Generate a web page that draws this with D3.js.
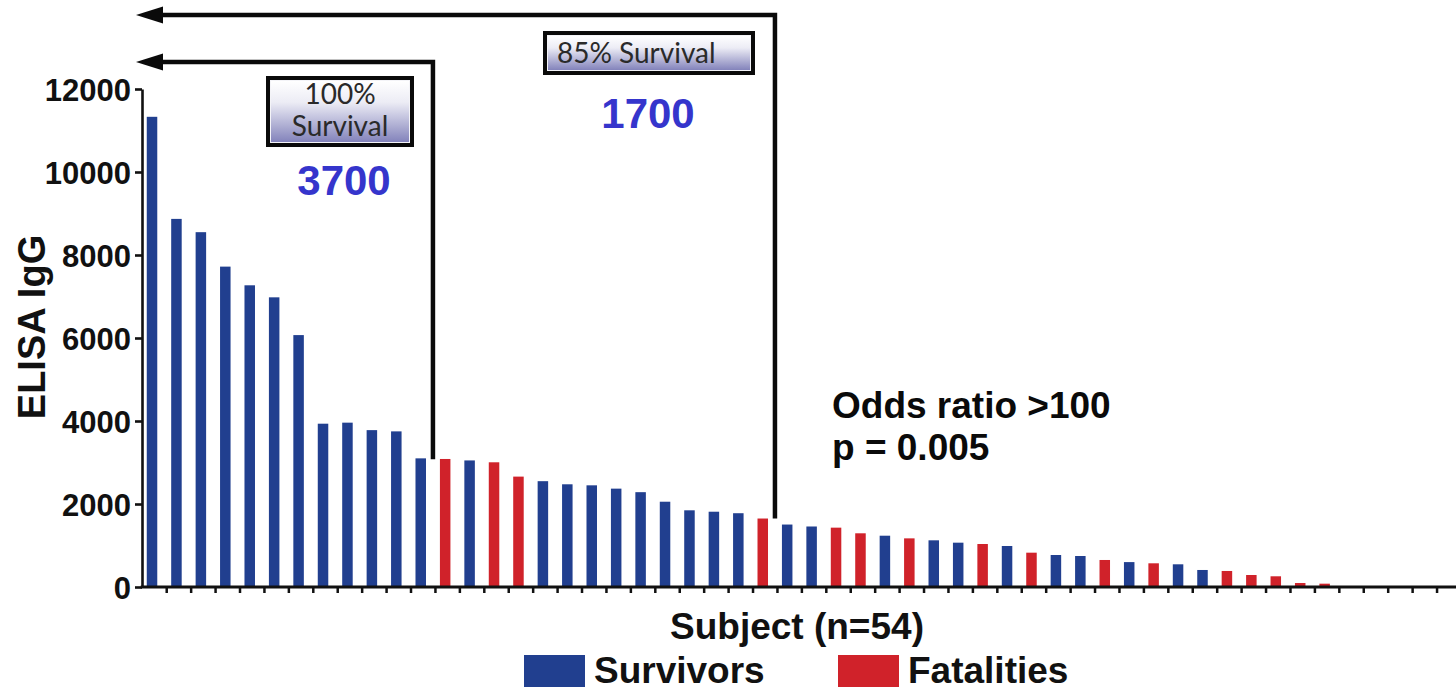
<!DOCTYPE html>
<html>
<head>
<meta charset="utf-8">
<script src="https://cdn.jsdelivr.net/npm/d3@7"></script>
<style>
  html, body { margin: 0; padding: 0; background: #fff; }
  svg { display: block; }
</style>
</head>
<body>
<svg id="chart" width="1456" height="687"></svg>
<script>
// ELISA IgG titre for each subject, sorted high to low
const subjects = d3.range(1, 55).map(String);
const igg = [
  11330, 8870, 8550, 7720, 7270, 6980, 6070, 3935, 3960, 3780, 3750, 3100,
  3085, 3050, 3005, 2660, 2550, 2475, 2450, 2370, 2285, 2055, 1848, 1814,
  1778, 1650, 1505, 1458, 1430, 1294, 1236, 1172, 1125, 1068, 1036, 988,
  827, 771, 747, 651, 600, 571, 547, 410, 386, 289, 258, 96, 80,
  0, 0, 0, 0, 0
];
// S = survivor, F = fatality
const outcome = [
  "S","S","S","S","S","S","S","S","S","S","S","S",
  "F","S","F","F","S","S","S","S","S","S","S","S",
  "S","F","S","S","F","F","S","F","S","S","F","S",
  "F","S","S","F","S","F","S","S","F","F","F","F","F",
  "F","F","F","F","F"
];
const yTicks = [0, 2000, 4000, 6000, 8000, 10000, 12000];
const legendItems = ["Survivors", "Fatalities"];
// threshold annotations: cut-off titre, survival label, subject index where the bracket drops
const thresholds = [
  { value: 3700, label: ["100%", "Survival"], after: 11 },
  { value: 1700, label: ["85% Survival"], after: 25 }
];

const colors = { S: "#213f8f", F: "#d0222a" };
const svg = d3.select("#chart");
const sans = "'Liberation Sans', Arial, sans-serif";

const x = d3.scaleBand().domain(subjects).range([139.8, 1459]).paddingInner(0.57).paddingOuter(0.285);
const y = d3.scaleLinear().domain([0, 12000]).range([587, 89]);

const defs = svg.append("defs");
const grad = defs.append("linearGradient").attr("id", "boxGrad")
  .attr("x1", 0).attr("y1", 0).attr("x2", 0).attr("y2", 1);
grad.append("stop").attr("offset", "0%").attr("stop-color", "#ffffff");
grad.append("stop").attr("offset", "35%").attr("stop-color", "#ececf5");
grad.append("stop").attr("offset", "100%").attr("stop-color", "#8383bb");

// bars
svg.append("g").selectAll("rect").data(igg).join("rect")
  .attr("x", (d, i) => x(subjects[i]))
  .attr("y", d => y(d))
  .attr("width", x.bandwidth())
  .attr("height", d => Math.max(0, y(0) - y(d) - 1))
  .attr("fill", (d, i) => colors[outcome[i]]);

// y axis
const yAxis = svg.append("g").attr("transform", "translate(142,0)")
  .call(d3.axisLeft(y).tickValues(yTicks).tickSize(7).tickSizeOuter(0).tickFormat(d3.format("d")));
yAxis.select(".domain").attr("stroke", "#111").attr("stroke-width", 2.6);
yAxis.selectAll(".tick line").attr("stroke", "#111").attr("stroke-width", 2.6);
yAxis.selectAll(".tick text")
  .attr("x", -11).attr("dy", "0.36em")
  .attr("fill", "#111")
  .style("font-family", sans)
  .style("font-weight", "bold").style("font-size", "31px");

// x axis baseline with ticks at category boundaries
svg.append("line").attr("x1", 140.7).attr("x2", 1456).attr("y1", y(0)).attr("y2", y(0))
  .attr("stroke", "#111").attr("stroke-width", 2.8);
svg.append("g").selectAll("line").data(subjects).join("line")
  .attr("x1", d => x(d) + x.bandwidth() / 2 + 14.7)
  .attr("x2", d => x(d) + x.bandwidth() / 2 + 14.7)
  .attr("y1", y(0)).attr("y2", y(0) + 6)
  .attr("stroke", "#111").attr("stroke-width", 2.5);

// axis titles
svg.append("text").attr("transform", "translate(45,327) rotate(-90)")
  .attr("text-anchor", "middle").attr("fill", "#111")
  .style("font-family", sans)
  .style("font-weight", "bold").style("font-size", "38px")
  .text("ELISA IgG");
svg.append("text").attr("x", 797).attr("y", 639)
  .attr("text-anchor", "middle").attr("fill", "#111")
  .style("font-family", sans)
  .style("font-weight", "bold").style("font-size", "37px")
  .text("Subject (n=54)");

// threshold brackets with left-pointing arrows
const bracketY = [62, 15];
thresholds.forEach((t, k) => {
  const i = t.after;
  const xv = x(subjects[i]) + x.bandwidth() / 2 + 12.2;
  const yTop = bracketY[k];
  svg.append("path")
    .attr("d", `M${xv},${y(igg[i]) + (k === 0 ? 1 : 0)} L${xv},${yTop} L158,${yTop}`)
    .attr("fill", "none").attr("stroke", "#0a0a0a").attr("stroke-width", 4.5)
    .attr("stroke-linejoin", "miter");
  svg.append("path")
    .attr("d", `M136,${yTop} L163,${yTop - 8.5} L163,${yTop + 8.5} Z`)
    .attr("fill", "#0a0a0a");
});

// survival label boxes
function labelBox(x0, y0, w, h, lines, lineY, anchorX, anchor) {
  svg.append("rect").attr("x", x0).attr("y", y0).attr("width", w).attr("height", h)
    .attr("fill", "#0a0a0a");
  svg.append("rect").attr("x", x0 + 4).attr("y", y0 + 4).attr("width", w - 8).attr("height", h - 8)
    .attr("fill", "#f4f4f8");
  svg.append("rect").attr("x", x0 + 5).attr("y", y0 + 5).attr("width", w - 10).attr("height", h - 10)
    .attr("fill", "url(#boxGrad)");
  lines.forEach((s, j) => {
    svg.append("text").attr("x", anchorX).attr("y", lineY[j])
      .attr("text-anchor", anchor).attr("fill", "#2a2a2a")
      .style("font-family", "Lato, 'Open Sans', sans-serif")
      .style("font-size", "28px")
      .text(s);
  });
}
labelBox(266, 76, 148, 71, thresholds[0].label, [104, 136], 340, "middle");
labelBox(543, 31, 212, 44, thresholds[1].label, [63], 557, "start");

// cut-off values
const cutPos = [[344, 195], [648, 128]];
thresholds.forEach((t, k) => {
  svg.append("text").attr("x", cutPos[k][0]).attr("y", cutPos[k][1])
    .attr("text-anchor", "middle").attr("fill", "#3535cc")
    .style("font-family", sans)
    .style("font-weight", "bold").style("font-size", "42px")
    .text(d3.format("d")(t.value));
});

// statistics
const stats = ["Odds ratio >100", "p = 0.005"];
svg.append("g").selectAll("text").data(stats).join("text")
  .attr("x", 832).attr("y", (d, i) => 418 + i * 42)
  .attr("fill", "#0a0a0a")
  .style("font-family", sans)
  .style("font-weight", "bold").style("font-size", "37px")
  .text(d => d);

// legend
const legendX = [524, 838];
legendItems.forEach((name, k) => {
  svg.append("rect").attr("x", legendX[k]).attr("y", 655).attr("width", 61).attr("height", 40)
    .attr("fill", colors[k === 0 ? "S" : "F"]);
  svg.append("text").attr("x", legendX[k] + 70).attr("y", 683)
    .attr("fill", "#111")
    .style("font-family", sans)
    .style("font-weight", "bold").style("font-size", "37px")
    .text(name);
});
</script>
</body>
</html>
